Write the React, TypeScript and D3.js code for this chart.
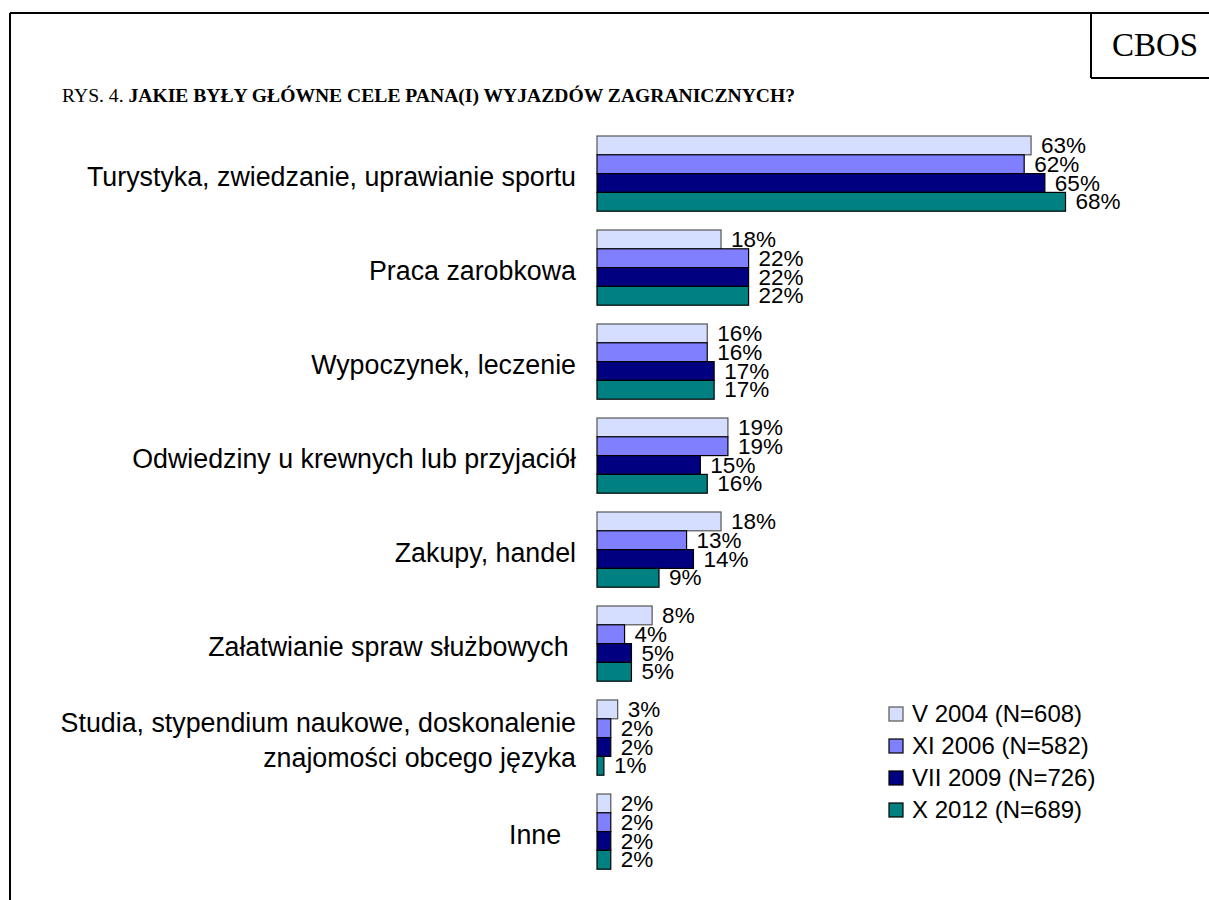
import React from 'react';
import { scaleBand, scaleLinear } from 'd3';

const categories = [
  ['Turystyka, zwiedzanie, uprawianie sportu'],
  ['Praca zarobkowa'],
  ['Wypoczynek, leczenie'],
  ['Odwiedziny u krewnych lub przyjaciół'],
  ['Zakupy, handel'],
  ['Załatwianie spraw służbowych '],
  ['Studia, stypendium naukowe, doskonalenie', 'znajomości obcego języka'],
  ['Inne  '],
];
const seriesNames = ['V 2004 (N=608)', 'XI 2006 (N=582)', 'VII 2009 (N=726)', 'X 2012 (N=689)'];
const v2004 = [63, 18, 16, 19, 18, 8, 3, 2];
const xi2006 = [62, 22, 16, 19, 13, 4, 2, 2];
const vii2009 = [65, 22, 17, 15, 14, 5, 2, 2];
const x2012 = [68, 22, 17, 16, 9, 5, 1, 2];
const series = [v2004, xi2006, vii2009, x2012];
const colors = ['#D6DEFF', '#8080FF', '#000080', '#008080'];
const strokes = ['#555', '#000', '#000', '#000'];

const W = 1209;
const H = 900;
const sans = 'Arial, "Liberation Sans", sans-serif';
const serif = '"Times New Roman", "Liberation Serif", serif';

export default function App() {
  const x = scaleLinear().domain([0, 100]).range([597, 597 + 689]);
  const y = scaleBand<number>()
    .domain(categories.map((_, i) => i))
    .range([126.6, 878.6])
    .paddingInner(0.2)
    .paddingOuter(0.1);
  const inner = scaleBand<number>()
    .domain(series.map((_, i) => i))
    .range([0, y.bandwidth()]);

  return (
    <svg
      width={W}
      height={H}
      style={{ position: 'absolute', left: 0, top: 0, background: '#fff' }}
    >
      {/* frame */}
      <line x1={10} y1={13} x2={W} y2={13} stroke="#000" strokeWidth={2} />
      <line x1={10} y1={13} x2={10} y2={H} stroke="#000" strokeWidth={2} />
      <line x1={1091} y1={13} x2={1091} y2={78} stroke="#000" strokeWidth={2} />
      <line x1={1091} y1={78} x2={W} y2={78} stroke="#000" strokeWidth={2} />
      <text x={1155} y={56} textAnchor="middle" fontFamily={serif} fontSize={33}>
        CBOS
      </text>

      {/* title */}
      <text x={62} y={102} fontFamily={serif} fontSize={19.6}>
        RYS. 4.{' '}
        <tspan fontWeight="bold">JAKIE BYŁY GŁÓWNE CELE PANA(I) WYJAZDÓW ZAGRANICZNYCH?</tspan>
      </text>

      {/* category labels */}
      {categories.map((lines, i) => {
        const cy = (y(i) as number) + y.bandwidth() / 2;
        return (
          <text
            key={'c' + i}
            x={576}
            textAnchor="end"
            fontFamily={sans}
            fontSize={26.8}
            style={{ whiteSpace: 'pre' }}
          >
            {lines.map((l, j) => (
              <tspan
                key={j}
                x={576}
                y={cy + 12 + (j - (lines.length - 1) / 2) * 35}
              >
                {l}
              </tspan>
            ))}
          </text>
        );
      })}

      {/* bars */}
      {series.map((vals, s) =>
        vals.map((v, i) => {
          const by = (y(i) as number) + (inner(s) as number);
          return (
            <g key={`b${s}-${i}`}>
              <rect
                x={x(0)}
                y={by}
                width={x(v) - x(0)}
                height={inner.bandwidth()}
                fill={colors[s]}
                stroke={strokes[s]}
                strokeWidth={1.2}
              />
              <text
                x={x(v) + 10}
                y={by + inner.bandwidth() / 2 + 7.5}
                fontFamily={sans}
                fontSize={22.5}
              >
                {v}%
              </text>
            </g>
          );
        })
      )}

      {/* legend */}
      {seriesNames.map((name, s) => {
        const ly = 714 + s * 32;
        return (
          <g key={'l' + s}>
            <rect
              x={889}
              y={ly - 7}
              width={14}
              height={14}
              fill={colors[s]}
              stroke={strokes[s]}
              strokeWidth={1.2}
            />
            <text x={912} y={ly + 8} fontFamily={sans} fontSize={24}>
              {name}
            </text>
          </g>
        );
      })}
    </svg>
  );
}
